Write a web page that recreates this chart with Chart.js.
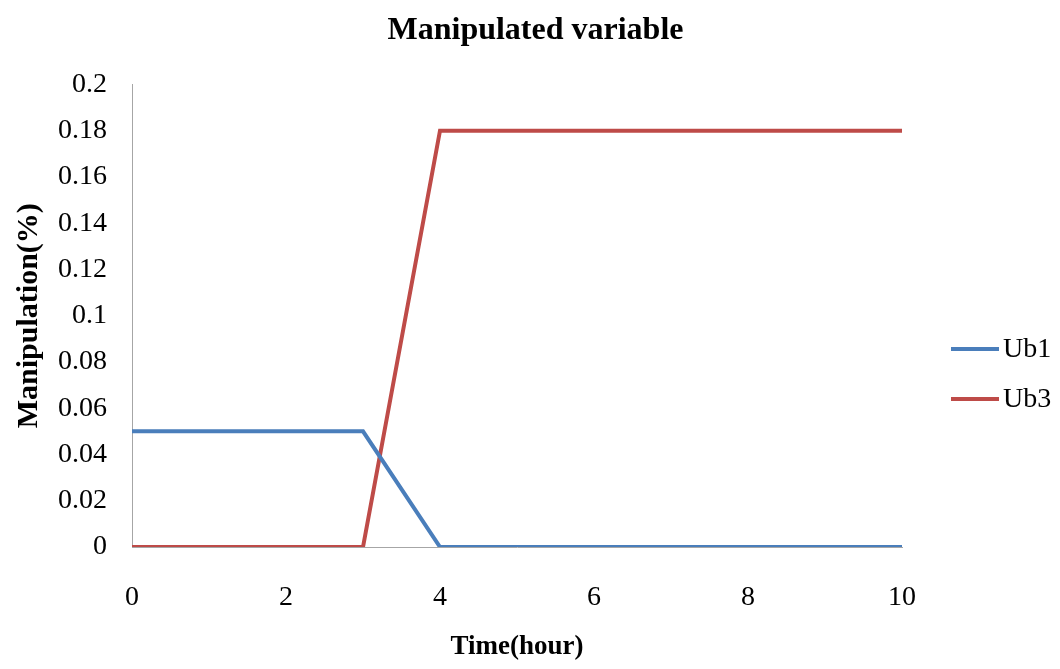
<!DOCTYPE html>
<html>
<head>
<meta charset="utf-8">
<script src="https://cdn.jsdelivr.net/npm/chart.js@4/dist/chart.umd.min.js"></script>
<style>
  html, body { margin: 0; padding: 0; background: #fff; }
  #c { display: block; }
</style>
</head>
<body>
<canvas id="c" width="1060" height="669"></canvas>
<script>
// ---- data ----
const timeHours = [0, 3, 4, 10];
const ub1Values = [0.05, 0.05, 0, 0];
const ub3Values = [0, 0, 0.18, 0.18];
const seriesNames = ['Ub1', 'Ub3'];
const xTickLabels = ['0', '2', '4', '6', '8', '10'];
const yTickLabels = ['0', '0.02', '0.04', '0.06', '0.08', '0.1', '0.12', '0.14', '0.16', '0.18', '0.2'];

const FONT = 'Liberation Serif';

const toPoints = (xs, ys) => xs.map((x, i) => ({ x: x, y: ys[i] }));

const sideLegend = {
  id: 'sideLegend',
  afterDraw(chart, args, opts) {
    const ctx = chart.ctx;
    const a = chart.chartArea;
    chart.data.datasets.forEach((ds, i) => {
      const y = opts.top + i * opts.gap;
      const x0 = a.right + opts.dx;
      ctx.save();
      ctx.strokeStyle = ds.borderColor;
      ctx.lineWidth = 4;
      ctx.lineCap = 'butt';
      ctx.beginPath();
      ctx.moveTo(x0, y);
      ctx.lineTo(x0 + opts.len, y);
      ctx.stroke();
      ctx.fillStyle = '#000';
      ctx.font = '28px "' + FONT + '"';
      ctx.textBaseline = 'middle';
      ctx.textAlign = 'left';
      ctx.fillText(ds.label, x0 + opts.len + 4, y + 1);
      ctx.restore();
    });
  }
};

new Chart(document.getElementById('c'), {
  type: 'line',
  data: {
    datasets: [
      {
        label: seriesNames[0],
        data: toPoints(timeHours, ub1Values),
        borderColor: '#4a7ebb',
        backgroundColor: '#4a7ebb',
        borderWidth: 4,
        pointRadius: 0,
        tension: 0
      },
      {
        label: seriesNames[1],
        data: toPoints(timeHours, ub3Values),
        borderColor: '#be4b48',
        backgroundColor: '#be4b48',
        borderWidth: 4,
        pointRadius: 0,
        tension: 0
      }
    ]
  },
  options: {
    responsive: false,
    animation: false,
    events: [],
    layout: { padding: { top: 0, right: 0, bottom: 6, left: 11 } },
    plugins: {
      legend: { display: false },
      tooltip: { enabled: false },
      title: {
        display: true,
        text: 'Manipulated variable',
        color: '#000',
        font: { family: FONT, size: 32, weight: 'bold' },
        padding: { top: 12, bottom: 34 }
      },
      sideLegend: { top: 349, gap: 50, dx: 49, len: 48 }
    },
    scales: {
      x: {
        type: 'linear',
        min: 0,
        max: 10,
        grid: { display: false, drawTicks: false },
        border: { display: true, color: '#a6a6a6', width: 1 },
        ticks: {
          stepSize: 2,
          color: '#000',
          padding: 34,
          font: { family: FONT, size: 28 },
          callback: (v, i) => xTickLabels[i]
        },
        title: {
          display: true,
          text: 'Time(hour)',
          color: '#000',
          font: { family: FONT, size: 27, weight: 'bold' },
          padding: { top: -18, bottom: 0 }
        }
      },
      y: {
        type: 'linear',
        min: 0,
        max: 0.2,
        grid: { display: false, drawTicks: false },
        border: { display: true, color: '#a6a6a6', width: 1 },
        ticks: {
          stepSize: 0.02,
          color: '#000',
          padding: 25,
          font: { family: FONT, size: 28 },
          callback: (v, i) => yTickLabels[i]
        },
        title: {
          display: true,
          text: 'Manipulation(%)',
          color: '#000',
          font: { family: FONT, size: 30, weight: 'bold' },
          padding: { top: 0, bottom: -14 }
        }
      },
      legendSpace: {
        type: 'linear',
        position: 'right',
        display: true,
        grid: { display: false, drawTicks: false },
        border: { display: false },
        ticks: { display: false },
        afterFit: (s) => { s.width = 158; }
      }
    }
  },
  plugins: [sideLegend]
});
</script>
</body>
</html>
